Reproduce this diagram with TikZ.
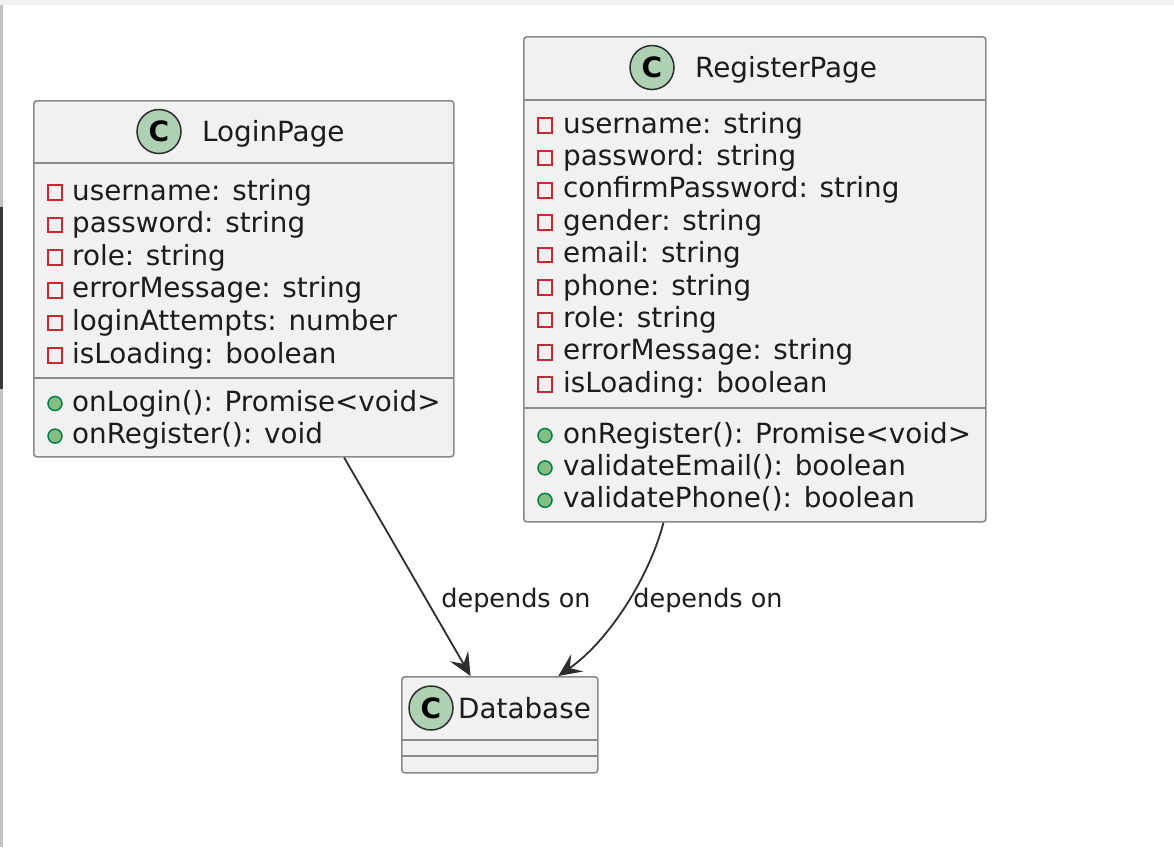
\documentclass[tikz,border=0pt]{standalone}
\usepackage{fontspec}
\setmainfont{DejaVu Sans}
\usetikzlibrary{arrows.meta,calc}
\definecolor{boxfill}{HTML}{F1F1F1}
\definecolor{boxline}{HTML}{8A8A8A}
\definecolor{cfill}{HTML}{ADD1B2}
\definecolor{privred}{HTML}{C82930}
\definecolor{pubfill}{HTML}{84BE84}
\definecolor{publine}{HTML}{038048}
\definecolor{txt}{HTML}{1C1C1C}
\definecolor{arr}{HTML}{2E2E2E}
\tikzset{
  cbox/.style={draw=boxline, fill=boxfill, line width=1.6pt, rounded corners=3pt, inner sep=0pt, anchor=north west},
  divline/.style={draw=boxline, line width=1.6pt},
  cicon/.style={circle, fill=cfill, draw=arr, line width=1.5pt, minimum size=44pt, inner sep=0pt, font=\fontsize{28}{28}\selectfont\bfseries, text=black},
  ttl/.style={anchor=base west, inner sep=0pt, font=\fontsize{27.8}{32}\selectfont, text=txt},
  mem/.style={anchor=base west, inner sep=0pt, font=\fontsize{27.8}{32}\selectfont, text=txt},
  privm/.style={draw=privred, fill=boxfill, line width=2pt, minimum size=14.5pt, inner sep=0pt},
  pubm/.style={circle, draw=publine, fill=pubfill, line width=1.5pt, minimum size=14pt, inner sep=0pt},
  dep/.style={draw=arr, line width=1.8pt, -{Stealth[length=23pt,width=21pt,inset=9pt]}},
  lbl/.style={inner sep=0pt, font=\fontsize{25.5}{30}\selectfont, text=txt},
}
\begin{document}
\begin{tikzpicture}[x=1pt,y=-1pt]
\useasboundingbox (0,0) rectangle (1174,847);
\fill[white] (0,0) rectangle (1174,847);
\fill[black!6] (0,0) rectangle (1174,5);
\fill[black!24] (0,5) rectangle (3,847);
\fill[black!78] (0,207) rectangle (3,389);

% ---------- LoginPage ----------
\node[cbox, minimum width=420pt, minimum height=356pt] (login) at (33,100) {};
\draw[divline] (33,163) -- (453,163);
\draw[divline] (33,378) -- (453,378);
\node[cicon] (loginC) at (159,131.5) {C};
\node[ttl] (loginT) at (202,141.5) {LoginPage};
\foreach \i/\t in {0/{username: string},1/{password: string},2/{role: string},3/{errorMessage: string},4/{loginAttempts: number},5/{isLoading: boolean}}{
  \node[privm] (la\i m) at (55,192.5+32.6*\i) {};
  \node[mem] (la\i) at (72,200+32.6*\i) {\t};
}
\foreach \i/\t in {0/{onLogin(): Promise<void>},1/{onRegister(): void}}{
  \node[pubm] (lm\i m) at (55,403.5+32.6*\i) {};
  \node[mem] (lm\i) at (72,411+32.6*\i) {\t};
}

% ---------- RegisterPage ----------
\node[cbox, minimum width=462pt, minimum height=485pt] (register) at (523,36) {};
\draw[divline] (523,100) -- (985,100);
\draw[divline] (523,408) -- (985,408);
\node[cicon] (registerC) at (652,67.5) {C};
\node[ttl] (registerT) at (695,77.5) {RegisterPage};
\foreach \i/\t in {0/{username: string},1/{password: string},2/{confirmPassword: string},3/{gender: string},4/{email: string},5/{phone: string},6/{role: string},7/{errorMessage: string},8/{isLoading: boolean}}{
  \node[privm] (ra\i m) at (545,125.5+32.4*\i) {};
  \node[mem] (ra\i) at (563,133+32.4*\i) {\t};
}
\foreach \i/\t in {0/{onRegister(): Promise<void>},1/{validateEmail(): boolean},2/{validatePhone(): boolean}}{
  \node[pubm] (rm\i m) at (545,435.5+32.4*\i) {};
  \node[mem] (rm\i) at (563,443+32.4*\i) {\t};
}

% ---------- Database ----------
\node[cbox, minimum width=196pt, minimum height=96pt] (db) at (401,676) {};
\draw[divline] (401,740) -- (597,740);
\draw[divline] (401,756) -- (597,756);
\node[cicon] (dbC) at (431,708) {C};
\node[ttl] (dbT) at (458,718) {Database};

% ---------- connectors ----------
\draw[dep] ($(login.south west)!0.738!(login.south east)$) -- ($(db.north west)!0.352!(db.north east)$);
\draw[dep] ($(register.south west)!0.303!(register.south east)$) .. controls (650,575) and (610,640) .. ($(db.north west)!0.796!(db.north east)$);
\node[lbl] (l1) at (516,600) {depends on};
\node[lbl] (l2) at (708,600) {depends on};
\end{tikzpicture}
\end{document}
